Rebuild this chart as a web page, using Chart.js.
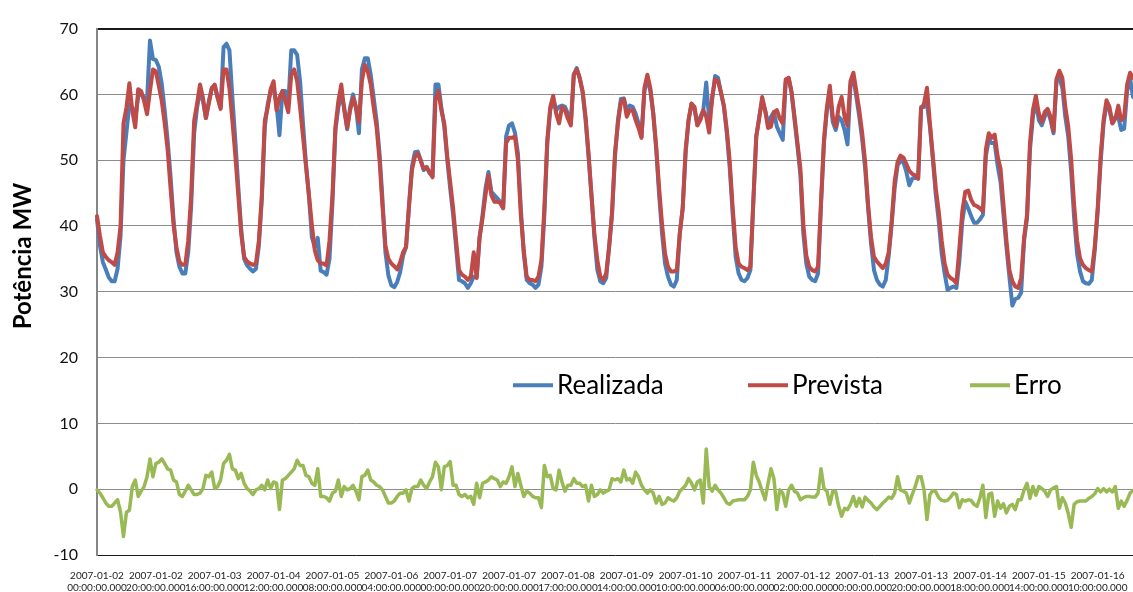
<!DOCTYPE html>
<html>
<head>
<meta charset="utf-8">
<title>Potência MW</title>
<script src="https://cdn.jsdelivr.net/npm/chart.js@4.4.0/dist/chart.umd.min.js"></script>
<style>
	html, body { margin: 0; padding: 0; background: #fff; }
	#wrap { width: 1133px; height: 592px; }
</style>
</head>
<body>
<div id="wrap"><canvas id="grafico" width="1133" height="592"></canvas></div>
<script>
// hourly values, one row per day (24 points)
var realizada = [
	41.0,37.0,34.5,33.4,32.2,31.6,31.6,33.5,38.5,50.0,54.2,58.5,58.0,56.4,59.7,60.2,59.4,59.0,68.2,65.4,65.2,64.2,61.6,57.6,
	53.0,47.5,41.0,36.0,33.8,32.8,32.8,36.0,43.0,54.0,58.0,60.5,59.0,56.4,59.0,61.0,61.2,59.5,58.0,67.2,67.7,66.7,59.5,53.0,
	46.0,39.5,35.0,34.0,33.5,33.1,33.5,37.0,44.0,55.0,58.5,60.5,61.0,58.5,53.8,60.5,60.5,58.5,66.7,66.7,66.0,62.0,55.5,49.5,
	44.7,38.3,36.8,38.2,33.2,33.0,32.6,35.0,43.5,54.5,58.0,60.0,58.0,54.7,58.0,60.0,58.0,54.1,63.8,65.5,65.5,63.0,59.5,56.0,
	51.0,44.0,36.0,32.5,31.0,30.7,31.5,33.0,35.5,36.8,43.0,49.0,51.2,51.3,50.0,48.5,49.0,48.0,47.6,61.5,61.5,58.0,55.1,50.1,
	45.7,41.7,36.8,31.8,31.6,31.3,30.6,31.3,32.3,32.3,38.3,41.7,45.7,48.2,45.2,44.7,44.2,43.7,42.7,53.6,55.3,55.6,54.2,51.1,
	42.7,35.8,31.8,31.3,31.1,30.6,31.1,33.8,41.7,52.6,57.6,59.3,57.6,58.1,58.3,58.1,57.1,55.6,63.0,64.0,62.5,60.3,56.1,50.6,
	44.7,38.3,33.3,31.6,31.3,32.1,36.8,41.7,50.6,56.1,59.3,59.4,57.6,58.3,58.1,57.1,55.6,53.6,60.5,62.5,60.5,57.1,51.6,44.7,
	38.8,34.3,32.3,31.1,30.8,31.8,38.8,42.7,51.1,56.1,58.6,57.8,55.3,56.6,57.6,61.8,56.1,59.1,62.8,62.5,60.3,58.1,54.1,48.7,
	41.7,35.3,32.8,31.8,31.6,32.1,33.3,43.7,53.6,56.6,59.1,57.6,55.6,56.6,57.3,55.1,54.1,53.1,61.8,62.5,60.3,56.1,52.1,47.7,
	38.8,34.3,32.3,31.8,31.6,32.8,43.2,52.6,57.6,60.1,55.8,54.6,56.6,56.1,54.6,52.4,61.3,62.5,59.6,56.6,53.1,48.7,42.7,37.3,
	33.3,31.8,31.1,30.8,31.8,35.5,40.2,45.7,49.2,49.9,49.7,48.2,46.2,47.2,47.4,47.2,58.1,58.1,58.6,55.1,50.1,44.7,40.7,35.8,
	32.8,30.3,30.6,30.8,30.6,34.6,40.7,43.7,42.7,41.5,40.5,40.5,41.0,41.7,50.6,53.1,52.6,52.6,49.2,46.7,41.7,36.8,32.3,27.9,
	28.9,29.1,29.9,37.8,41.2,51.6,56.6,59.1,56.1,55.3,56.6,57.6,56.1,54.1,62.0,62.5,61.0,56.6,53.6,48.2,41.2,35.8,33.1,31.6,
	31.3,31.2,31.8,36.3,42.2,49.7,55.6,58.6,57.6,55.6,56.6,56.6,54.6,54.8,60.5,62.5,59.6
];

var prevista = [
	41.5,38.5,36.0,35.3,34.8,34.5,34.1,36.0,40.0,55.6,58.0,61.7,57.5,55.0,60.8,60.5,59.0,57.0,60.5,63.8,63.5,61.3,59.0,55.6,
	51.6,45.7,40.2,36.8,34.6,34.1,34.1,37.8,44.7,56.0,58.6,61.5,59.5,56.4,58.6,60.9,61.5,59.5,57.8,63.8,63.8,60.9,56.0,50.7,
	44.7,38.8,35.3,34.6,34.3,34.1,34.3,37.8,44.7,56.0,58.0,60.8,62.0,57.6,59.5,60.5,59.0,57.3,63.0,63.8,62.0,58.0,53.6,49.1,
	44.7,40.2,36.3,34.8,34.3,34.3,34.0,37.8,44.7,55.0,59.0,61.5,57.6,54.9,57.6,59.5,58.0,55.8,62.0,64.5,63.5,61.5,58.0,55.0,
	50.0,43.0,37.0,35.0,34.3,33.9,33.4,34.5,36.0,36.8,43.0,48.5,50.5,51.0,49.9,48.7,48.9,48.2,47.4,59.1,60.5,57.6,55.6,50.6,
	46.7,42.7,37.8,33.3,32.6,32.3,31.8,32.3,36.0,32.1,38.3,41.2,44.7,47.7,44.7,43.7,43.7,43.5,42.7,52.6,53.4,53.4,53.6,50.1,
	41.7,36.3,32.3,31.8,31.8,31.6,32.3,34.8,42.7,53.1,58.1,59.8,57.1,55.6,58.1,57.6,56.3,55.3,63.0,63.8,62.5,60.5,56.6,51.1,
	44.7,38.8,34.8,32.3,31.8,32.8,36.8,42.2,51.1,55.6,58.8,59.3,56.6,57.6,57.6,56.1,54.9,53.4,61.0,63.0,61.0,57.1,52.1,45.7,
	40.2,35.8,33.8,33.1,33.1,33.3,38.8,42.7,51.6,56.1,58.6,58.1,55.3,56.1,57.6,56.6,54.2,59.6,62.3,62.0,60.3,58.3,54.6,49.7,
	42.7,36.8,34.3,33.8,33.6,33.3,33.8,43.7,53.6,56.3,59.6,57.6,54.9,55.1,57.3,57.6,56.3,55.6,62.3,62.5,60.3,56.6,52.6,48.7,
	40.2,35.5,33.8,33.3,33.1,33.8,43.7,53.1,58.1,61.3,56.6,55.1,58.1,59.6,56.6,55.3,62.0,63.3,60.5,57.6,54.1,49.7,43.2,38.3,
	35.3,34.6,34.1,33.6,34.3,36.0,40.7,46.7,49.7,50.7,50.4,49.4,48.4,47.9,47.7,47.2,57.8,58.6,61.0,55.6,50.6,45.7,42.2,37.8,
	34.3,32.6,32.1,31.8,31.3,36.6,42.2,45.2,45.4,44.0,43.2,43.0,42.7,42.2,51.6,54.1,53.4,53.9,50.6,48.7,43.2,37.8,33.3,31.6,
	30.8,30.6,32.1,38.3,41.7,52.6,57.6,59.8,57.1,55.8,57.3,57.8,56.6,54.4,62.3,63.6,62.5,58.1,55.1,50.1,43.2,37.8,35.1,34.1,
	33.6,33.3,33.1,36.8,42.7,50.6,56.1,59.1,58.1,55.6,56.3,58.3,56.1,56.6,61.5,63.3,62.5
];

var erro = [
	-0.1,-0.6,-1.3,-2.1,-2.6,-2.6,-2.1,-1.6,-3.5,-7.2,-3.5,-3.2,0.4,1.4,-1.1,-0.3,0.4,1.9,4.6,1.9,3.9,4.1,4.6,3.9,
	3.1,2.9,1.4,1.1,-0.8,-1.1,-0.3,0.6,-0.1,-0.8,-0.8,-0.6,0.1,2.1,1.9,2.6,0.1,0.4,1.4,3.9,4.4,5.3,3.1,2.9,
	1.6,2.4,0.9,0.1,-0.3,-0.8,-0.1,0.1,0.6,-0.1,1.4,0.1,1.1,0.9,-3.1,1.4,1.6,2.1,2.6,3.1,4.4,3.6,3.6,2.1,
	1.9,0.9,0.6,3.1,-1.1,-1.1,-1.3,-1.8,-0.6,-0.3,1.4,-1.1,0.4,-0.1,0.1,0.6,-0.3,-1.6,1.9,2.1,2.9,1.4,1.1,0.6,
	0.4,-0.1,-1.1,-2.1,-2.1,-1.8,-1.1,-0.6,-0.6,-0.1,-1.8,0.1,0.4,0.4,1.4,0.6,0.1,1.1,1.9,4.1,3.4,-0.1,3.4,3.6,
	4.2,0.6,0.6,-0.8,-1.1,-0.8,-1.3,-1.1,-2.3,0.9,-1.3,0.9,1.1,1.4,1.9,1.6,1.4,0.4,1.1,0.9,1.9,3.4,0.4,2.4,
	0.6,-1.1,-0.3,-0.6,-1.1,-1.3,-1.3,-2.8,3.6,1.9,2.1,0.1,-0.1,2.9,1.1,-0.3,0.6,0.6,1.6,0.9,0.9,0.4,0.6,-1.8,
	0.6,-1.1,-0.8,-0.1,-0.6,-0.3,-0.1,1.6,1.4,1.6,1.1,2.9,1.4,1.6,0.9,2.6,1.9,0.6,-0.1,-0.6,-0.1,-0.6,-2.1,-1.1,
	-2.3,-2.1,-1.3,-1.6,-1.8,-1.3,-0.3,0.1,0.6,1.6,0.9,-0.1,1.1,1.4,-2.1,6.1,0.4,-0.3,0.6,-0.1,-0.6,-1.3,-2.1,-2.3,
	-1.8,-1.7,-1.6,-1.6,-1.6,-1.1,-0.1,4.1,2.1,1.1,-0.3,-1.6,0.9,3.1,1.6,-3.1,-0.1,-0.6,-2.6,-0.1,0.6,-0.3,-0.6,-1.6,
	-1.3,-1.1,-1.1,-1.2,-1.2,-0.6,3.1,0.1,-0.3,-2.3,-0.3,-0.4,-2.6,-4.1,-2.9,-3.1,-2.3,-1.1,-2.6,-1.4,-2.7,-1.2,-1.7,-2.1,
	-2.7,-3.1,-2.6,-2.1,-1.7,-1.2,-1.4,-0.6,1.9,-0.1,-0.3,-0.6,-2.1,-0.8,0.4,1.9,1.9,-0.1,-4.6,-0.8,-0.2,-0.4,-1.3,-1.7,
	-1.8,-1.7,-1.2,-0.6,-0.8,-2.8,-1.6,-1.8,-1.6,-1.7,-2.3,-2.6,-1.3,0.6,-4.3,-0.8,-0.6,-4.1,-1.8,-2.9,-2.2,-3.6,-2.6,-2.3,
	-3.1,-1.6,-1.6,-0.1,0.9,-1.4,0.4,-0.9,0.4,0.1,-0.3,-1.1,-0.1,0.2,0.4,-2.9,-1.3,-2.1,-3.7,-5.8,-2.3,-1.9,-1.8,-1.8,
	-1.8,-1.4,-1.1,-0.7,0.1,-0.4,0.1,-0.4,0.0,-0.4,0.4,-2.9,-1.8,-2.6,-1.7,-0.6,-0.2
];

// one label every 20 points
var tickLabels = [
	["2007-01-02","00:00:00.000"], ["2007-01-02","20:00:00.000"], ["2007-01-03","16:00:00.000"],
	["2007-01-04","12:00:00.000"], ["2007-01-05","08:00:00.000"], ["2007-01-06","04:00:00.000"],
	["2007-01-07","00:00:00.000"], ["2007-01-07","20:00:00.000"], ["2007-01-08","17:00:00.000"],
	["2007-01-09","14:00:00.000"], ["2007-01-10","10:00:00.000"], ["2007-01-11","06:00:00.000"],
	["2007-01-12","02:00:00.000"], ["2007-01-13","00:00:00.000"], ["2007-01-13","20:00:00.000"],
	["2007-01-14","18:00:00.000"], ["2007-01-15","14:00:00.000"], ["2007-01-16","10:00:00.000"]
];
var tickEvery = 20;
var yTicks = [-10, 0, 10, 20, 30, 40, 50, 60, 70];
var yTitle = "Potência MW";

var categories = [];
for (var i = 0; i < realizada.length; i++) {
	categories.push(i);
}

Chart.defaults.font.family = "Lato, 'Liberation Sans', sans-serif";
Chart.defaults.color = "#000";

// legend drawn inside the plot, like the excel one
var legendInside = {
	id: 'legendInside',
	afterDraw: function(chart){
		var ctx = chart.ctx;
		var y = chart.scales.y.getPixelForValue(15.8);
		var startX = [513, 748, 970];
		ctx.save();
		ctx.font = "26px Lato, 'Liberation Sans', sans-serif";
		ctx.textBaseline = 'middle';
		ctx.textAlign = 'left';
		chart.data.datasets.forEach(function(ds, k){
			var x = startX[k];
			ctx.strokeStyle = ds.borderColor;
			ctx.lineWidth = 4;
			ctx.lineCap = 'butt';
			ctx.beginPath();
			ctx.moveTo(x, y);
			ctx.lineTo(x + 40, y);
			ctx.stroke();
			ctx.fillStyle = '#000';
			ctx.fillText(ds.label, x + 44, y);
		});
		ctx.restore();
	}
};

// y title sits a bit above the middle of the axis
var yTitlePlugin = {
	id: 'yTitlePlugin',
	afterDraw: function(chart){
		var ctx = chart.ctx;
		ctx.save();
		ctx.translate(23, 256);
		ctx.rotate(-Math.PI / 2);
		ctx.font = "bold 24px Lato, 'Liberation Sans', sans-serif";
		ctx.fillStyle = '#000';
		ctx.textAlign = 'center';
		ctx.textBaseline = 'middle';
		ctx.fillText(yTitle, 0, 0);
		ctx.restore();
	}
};

var ctx = document.getElementById('grafico').getContext('2d');
var chart = new Chart(ctx, {
	type: 'line',
	data: {
		labels: categories,
		datasets: [{
			label: 'Realizada',
			data: realizada,
			borderColor: '#4A7EBB',
			borderWidth: 4,
			order: 3
		}, {
			label: 'Prevista',
			data: prevista,
			borderColor: '#BE4B48',
			borderWidth: 4,
			order: 2
		}, {
			label: 'Erro',
			data: erro,
			borderColor: '#98B954',
			borderWidth: 3.5,
			order: 1
		}]
	},
	options: {
		responsive: false,
		animation: false,
		devicePixelRatio: 1,
		layout: { padding: { top: 16, right: 0, bottom: 0, left: 0 } },
		elements: {
			point: { radius: 0 },
			line: { tension: 0, borderJoinStyle: 'round', borderCapStyle: 'round' }
		},
		plugins: {
			legend: { display: false },
			tooltip: { enabled: false }
		},
		scales: {
			x: {
				type: 'category',
				offset: false,
				grid: { display: false, drawTicks: false },
				border: { display: false },
				ticks: {
					autoSkip: false,
					maxRotation: 0,
					minRotation: 0,
					padding: 15,
					color: '#222',
					font: { size: 10, lineHeight: 1.2 },
					callback: function(value, index){
						return index % tickEvery === 0 ? tickLabels[index / tickEvery] : '';
					}
				},
				afterFit: function(scale){
					scale.height = 37;
					// let the plot run to the right edge
					scale.paddingLeft = 0;
					scale.paddingRight = 0;
				}
			},
			y: {
				min: yTicks[0],
				max: yTicks[yTicks.length - 1],
				afterBuildTicks: function(scale){
					scale.ticks = yTicks.map(function(v){ return { value: v }; });
				},
				grid: {
					drawTicks: false,
					color: function(c){
						if (c.tick && (c.tick.value === 70 || c.tick.value === -10)) return '#1a1a1a';
						return '#8c8c8c';
					},
					lineWidth: function(c){
						return (c.tick && c.tick.value === 70) ? 2 : 1;
					}
				},
				border: { display: true, color: '#868686', width: 2 },
				ticks: {
					padding: 19,
					color: '#111',
					font: { size: 16 }
				},
				afterFit: function(scale){ scale.width = 97; }
			}
		}
	},
	plugins: [legendInside, yTitlePlugin]
});
</script>
</body>
</html>
